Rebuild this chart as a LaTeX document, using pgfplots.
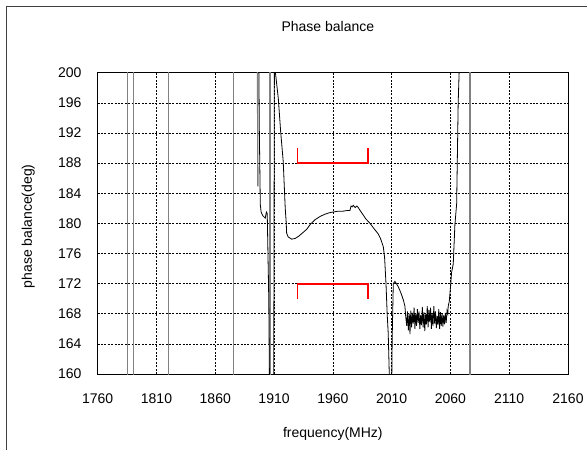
\documentclass[border=0pt]{standalone}
\usepackage{fontspec}
\setmainfont{Liberation Sans}
\usepackage{pgfplots}
\pgfplotsset{compat=1.18}
\begin{document}
\begin{tikzpicture}
\path[use as bounding box] (-97.7bp,-76bp) rectangle (489.3bp,374bp);
\draw[black!75, line width=0.9bp] (-91.7bp,-80bp) -- (-91.7bp,367.6bp) -- (495bp,367.6bp);
\begin{axis}[
  at={(0,0)}, anchor=south west,
  scale only axis, width=470.3bp, height=301.3bp,
  xmin=1760, xmax=2160, ymin=160, ymax=200,
  xtick={1760,1810,...,2160}, ytick={160,164,...,200},
  grid=major,
  major grid style={black, dash pattern=on 2bp off 1.4bp, line width=0.6bp},
  major tick length=0pt,
  axis line style={black, line width=0.9bp},
  /pgf/number format/assume math mode=true,
  /pgf/number format/1000 sep={},
  tick label style={font=\fontsize{14bp}{16bp}\selectfont, black},
  yticklabel style={anchor=east, inner sep=0pt, xshift=-16bp},
  xticklabel style={anchor=base, inner sep=0pt, yshift=-29bp},
  xlabel={frequency(MHz)},
  xlabel style={at={(axis description cs:0.5,0)}, anchor=base, yshift=-63bp, font=\fontsize{14bp}{16bp}\selectfont},
  ylabel={phase balance(deg)},
  ylabel style={at={(axis description cs:0,0.5)}, anchor=center, xshift=-3bp, yshift=69.4bp, font=\fontsize{14bp}{16bp}\selectfont},
  title={Phase balance},
  title style={at={(axis description cs:0.5,1)}, anchor=center, yshift=40.5bp, xshift=-5bp, font=\fontsize{14bp}{16bp}\selectfont},
]
% gray series (steep off-scale jumps)
\addplot[black!50, line width=1.4bp] coordinates {(1785.5,150) (1785.5,210)};
\addplot[black!50, line width=1.4bp] coordinates {(1790.3,210) (1790.3,150)};
\addplot[black!50, line width=1.4bp] coordinates {(1820.0,150) (1820.0,210)};
\addplot[black!50, line width=1.4bp] coordinates {(1875.3,210) (1875.3,150)};
\addplot[black!50, line width=1.4bp] coordinates {(1895.9,210) (1896.2,184.9)};
\addplot[black!50, line width=1.4bp] coordinates {(1906.6,150) (1906.6,210)};
\addplot[black!50, line width=1.4bp] coordinates {(2076.6,210) (2076.6,150)};
% main curve
\addplot[black, line width=0.8bp] coordinates {
(1896.6,210) (1897.5,192) (1898.3,182.5) (1899.0,181.5) (1900.5,181.0) (1902.5,180.7)
(1903.5,181.5) (1904.2,181.3) (1905.5,170) (1906.3,155) (1909.6,150) (1910.4,210)
(1910.8,200.5) (1913.6,196.6) (1915.6,192.2) (1917.8,188.2) (1919.5,182.0) (1920.3,180.2)
(1920.7,178.7) (1922,178.2) (1925,177.9) (1928,178.0) (1931,178.3) (1934,178.7)
(1937.7,179.2) (1941,179.9) (1945,180.5) (1949,180.9) (1953,181.2) (1957,181.4)
(1960,181.5) (1964,181.6) (1968,181.6) (1972,181.7) (1974.5,181.7) (1975.5,182.3)
(1976.5,182.2) (1977.3,182.4) (1979,182.1) (1980.5,182.3) (1981.6,182.1) (1983.2,181.7)
(1985.9,181.1) (1988,180.6) (1991.6,180.0) (1995,179.3) (1998.6,178.6) (2000.5,178.0)
(2002.9,176.9) (2004,175.5) (2005.2,172.0) (2006.2,168) (2007.1,165.4) (2008,160)
(2008.5,150) (2009.5,150) (2010.5,165) (2011.4,172.0) (2012.8,172.3) (2014,172.0)
(2015.6,171.6) (2017,171.1) (2018.5,170.5) (2020,169.8) (2021.3,169.0) (2022.0,167.6)
(2022.8,166.4) (2023.5,168.3) (2024.2,165.8) (2025.0,168.0) (2025.6,165.3) (2026.3,168.4)
(2027.0,166.2) (2027.7,168.1) (2028.4,166.7) (2029.1,168.8) (2029.8,166.0) (2030.5,168.0)
(2031.2,166.4) (2031.9,168.6) (2032.6,166.8) (2033.3,168.3) (2034.0,166.0) (2034.7,167.8)
(2035.4,166.5) (2036.1,168.9) (2036.8,166.2) (2037.5,168.2) (2038.2,165.7) (2038.9,167.9)
(2039.6,166.6) (2040.3,169.0) (2041.0,166.2) (2041.7,168.5) (2042.4,166.9) (2043.1,168.8)
(2043.8,166.0) (2044.5,168.1) (2045.2,166.4) (2045.9,169.0) (2046.6,166.7) (2047.3,168.3)
(2048.0,166.1) (2048.7,167.7) (2049.4,166.5) (2050.1,168.6) (2050.8,166.0) (2051.5,168.2)
(2052.2,166.4) (2052.9,168.0) (2053.6,166.3) (2054.3,167.8) (2055.0,166.6) (2055.7,168.1)
(2056.4,166.8) (2057.1,168.4) (2057.8,168.0) (2058.1,169.0) (2059.0,169.6) (2060.2,171.8)
(2061.0,173.5) (2062.4,174.6) (2063.8,179.8) (2065.3,182.6) (2066.6,196) (2067.5,200.5)
(2068.0,210)
};
% red specification brackets
\addplot[red, line width=1.8bp] coordinates {(1930,190) (1930,188) (1990,188) (1990,190)};
\addplot[red, line width=1.8bp] coordinates {(1930,170) (1930,172) (1990,172) (1990,170)};
\end{axis}
\end{tikzpicture}
\end{document}
